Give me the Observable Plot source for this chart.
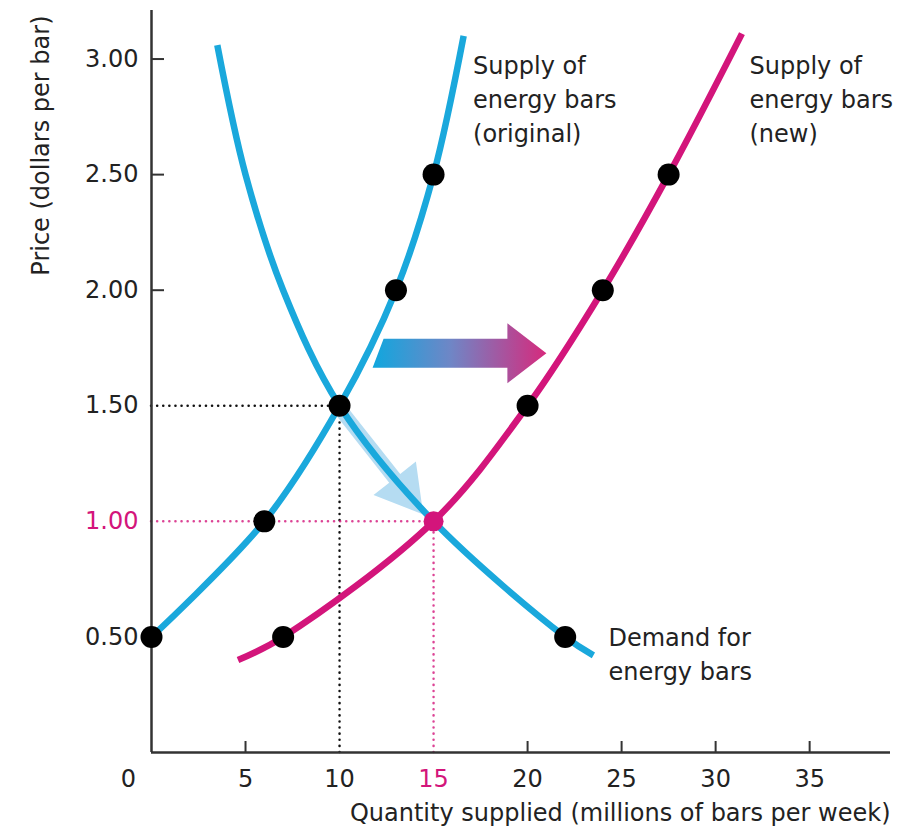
<!DOCTYPE html>
<html><head><meta charset="utf-8">
<script src="https://cdn.jsdelivr.net/npm/d3@7"></script>
<script src="https://cdn.jsdelivr.net/npm/@observablehq/plot@0.6"></script>
<style>body{margin:0;background:#fff}</style>
</head><body><div id="chart"></div>
<script>
// ---- data ----
const priceLevels = [0.5, 1.0, 1.5, 2.0, 2.5];
const supplyOriginalQty = [0, 6, 10, 13, 15];
const supplyNewQty = [7, 15, 20, 24, 27.5];
const demandQty = [22, 15, 10, 7, 5];
// curve ends (beyond the schedule points)
const supplyOriginalEnds = [{q: 16.6, p: 3.1}];
const supplyNewEnds = [{q: 4.6, p: 0.4}, {q: 31.4, p: 3.11}];
const demandEnds = [{q: 3.5, p: 3.06}, {q: 23.5, p: 0.42}];
const equilibriumOld = {q: 10, p: 1.5};
const equilibriumNew = {q: 15, p: 1.0};
const xTickLabels = [0, 5, 10, 15, 20, 25, 30, 35];
const xTickMarks = [5, 20, 25, 30, 35];
const yTickLabels = [0.5, 1.0, 1.5, 2.0, 2.5, 3.0];
const yTickMarks = [2.0, 2.5, 3.0];
const shiftArrow = {q0: 12.05, q1: 21.0, p: 1.727};
const movementArrow = {q0: 10.16, p0: 1.472, q1: 14.45, p1: 1.03};
const curveLabels = [
  {q: 17.1, p: 2.835, text: "Supply of\nenergy bars\n(original)"},
  {q: 31.8, p: 2.835, text: "Supply of\nenergy bars\n(new)"},
  {q: 24.3, p: 0.433, text: "Demand for\nenergy bars"}
];
const xLabel = "Quantity supplied (millions of bars per week)";
const yLabel = "Price (dollars per bar)";

// ---- layout / style ----
const W = 911, H = 831, mL = 151, mR = 21, mT = 10, mB = 79;
const xDomain = [0, 39.3], yDomain = [0, 3.21];
const kx = (W - mL - mR) / (xDomain[1] - xDomain[0]);
const ky = (H - mT - mB) / (yDomain[1] - yDomain[0]);
const CYAN = "#1aa8dc", MAGENTA = "#d3157b", INK = "#222", AXIS = "#333";
const FS = 24;
const dotted = {strokeWidth: 2.5, strokeDasharray: "0.1,6", strokeLinecap: "round"};

const pts = (qs) => qs.map((q, i) => ({q, p: priceLevels[i]}));
const sOrig = pts(supplyOriginalQty), sNew = pts(supplyNewQty), dem = pts(demandQty);
const sOrigCurve = [...sOrig, ...supplyOriginalEnds].sort((a, b) => a.p - b.p);
const sNewCurve = [...sNew, ...supplyNewEnds].sort((a, b) => a.p - b.p);
const demCurve = [...dem, ...demandEnds].sort((a, b) => a.p - b.p);

function arrowShape(x0, y0, x1, y1, {shaft, head, headLen, skew = 0}) {
  const ax = x0 * kx, ay = -y0 * ky, bx = x1 * kx, by = -y1 * ky;
  const dx = bx - ax, dy = by - ay, L = Math.hypot(dx, dy);
  const ux = dx / L, uy = dy / L, nx = -uy, ny = ux;
  const hx = bx - ux * headLen, hy = by - uy * headLen;
  const P = [
    [ax + nx * shaft - ux * skew, ay + ny * shaft - uy * skew],
    [hx + nx * shaft, hy + ny * shaft],
    [hx + nx * head, hy + ny * head],
    [bx, by],
    [hx - nx * head, hy - ny * head],
    [hx - nx * shaft, hy - ny * shaft],
    [ax - nx * shaft + ux * skew, ay - ny * shaft + uy * skew]
  ];
  return P.map(([x, y]) => ({q: x / kx, p: -y / ky}));
}
const shiftPoly = arrowShape(shiftArrow.q0, shiftArrow.p, shiftArrow.q1, shiftArrow.p, {shaft: 14.5, head: 30, headLen: 39, skew: 5.5});
const movePoly = arrowShape(movementArrow.q0, movementArrow.p0, movementArrow.q1, movementArrow.p1, {shaft: 7, head: 27, headLen: 46});

const blackDots = [...sOrig, ...sNew.filter(d => d.q !== equilibriumNew.q), dem[0]];

const plot = Plot.plot({
  width: W, height: H,
  marginLeft: mL, marginRight: mR, marginTop: mT, marginBottom: mB,
  x: {domain: xDomain, axis: null},
  y: {domain: yDomain, axis: null},
  style: {fontFamily: "'DejaVu Sans', sans-serif", background: "#fff", color: INK},
  marks: [
    // dotted guide lines
    Plot.ruleY([equilibriumOld], {y: "p", x1: 0, x2: "q", stroke: "#111", ...dotted}),
    Plot.ruleX([equilibriumOld], {x: "q", y1: 0, y2: "p", stroke: "#111", ...dotted}),
    Plot.ruleY([equilibriumNew], {y: "p", x1: 0, x2: "q", stroke: MAGENTA, strokeOpacity: 0.8, ...dotted}),
    Plot.ruleX([equilibriumNew], {x: "q", y1: 0, y2: "p", stroke: MAGENTA, strokeOpacity: 0.8, ...dotted}),
    // axes
    Plot.ruleX([0], {y1: 0, y2: yDomain[1], stroke: AXIS, strokeWidth: 2.5}),
    Plot.ruleY([0], {x1: 0, x2: xDomain[1], stroke: AXIS, strokeWidth: 2.5}),
    Plot.ruleX(xTickMarks, {x: d => d, y1: 0, y2: 11 / ky, stroke: AXIS, strokeWidth: 2}),
    Plot.ruleY(yTickMarks, {y: d => d, x1: 0, x2: 13 / kx, stroke: AXIS, strokeWidth: 2}),
    Plot.text(xTickLabels.filter(d => d !== 0), {x: d => d, y: 0, dy: 27, text: d => String(d), fontSize: FS,
      fill: d => d === equilibriumNew.q ? MAGENTA : INK}),
    Plot.text(xTickLabels.filter(d => d === 0), {x: d => d, y: 0, dy: 27, dx: -23, text: d => String(d), fontSize: FS, fill: INK}),
    Plot.text(yTickLabels, {x: 0, y: d => d, dx: -13, textAnchor: "end", text: d => d.toFixed(2), fontSize: FS,
      fill: d => d === equilibriumNew.p ? MAGENTA : INK}),
    Plot.text([xLabel], {frameAnchor: "bottom-right", dy: 68, textAnchor: "end", text: d => d, fontSize: FS, fill: INK}),
    Plot.text([yLabel], {frameAnchor: "top-left", dx: -120, dy: 5, rotate: -90, textAnchor: "end", text: d => d, fontSize: FS, fill: INK}),
    // movement arrow along demand (behind curves)
    Plot.line(movePoly, {x: "q", y: "p", curve: "linear-closed", fill: "#b5dcf2", stroke: "none"}),
    // curves
    Plot.line(demCurve, {x: "q", y: "p", curve: "catmull-rom", stroke: CYAN, strokeWidth: 6.5, strokeLinecap: "butt"}),
    Plot.line(sOrigCurve, {x: "q", y: "p", curve: "catmull-rom", stroke: CYAN, strokeWidth: 6.5, strokeLinecap: "butt"}),
    Plot.line(sNewCurve, {x: "q", y: "p", curve: "catmull-rom", stroke: MAGENTA, strokeWidth: 6.5, strokeLinecap: "butt"}),
    // supply shift arrow
    Plot.line(shiftPoly, {x: "q", y: "p", curve: "linear-closed", fill: "url(#shiftGrad)", stroke: "none"}),
    // points
    Plot.dot(blackDots, {x: "q", y: "p", r: 11, fill: "#000", stroke: "none"}),
    Plot.dot([equilibriumNew], {x: "q", y: "p", r: 10, fill: MAGENTA, stroke: "none"}),
    // curve labels
    Plot.text(curveLabels, {x: "q", y: "p", text: "text", textAnchor: "start", lineAnchor: "middle", lineHeight: 1.4, fontSize: FS, fill: INK})
  ]
});

const svg = d3.select(plot);
const defs = svg.insert("defs", ":first-child");
const g = defs.append("linearGradient").attr("id", "shiftGrad").attr("x1", 0).attr("x2", 1).attr("y1", 0).attr("y2", 0);
g.append("stop").attr("offset", 0).attr("stop-color", "#10a7de");
g.append("stop").attr("offset", 0.45).attr("stop-color", "#6f86c6");
g.append("stop").attr("offset", 1).attr("stop-color", "#d62a7d");
document.getElementById("chart").appendChild(plot);
</script>
</body></html>
